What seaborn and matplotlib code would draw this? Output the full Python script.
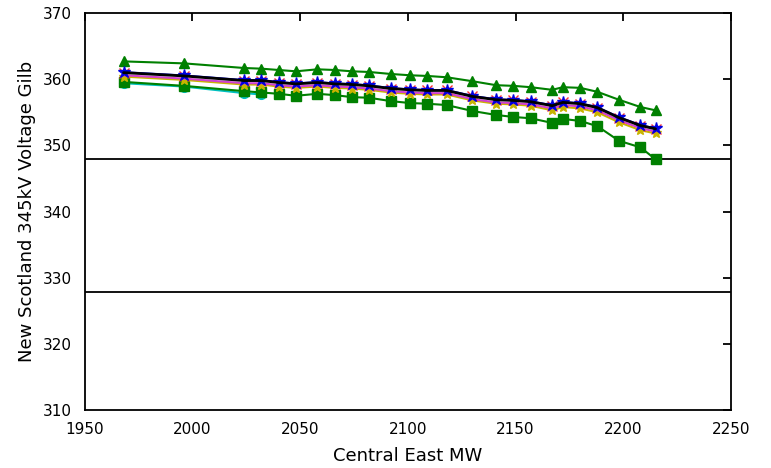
import matplotlib
matplotlib.use("Agg")
import matplotlib.pyplot as plt
import seaborn as sns
import pandas as pd

sns.set_style("white")
plt.rcParams['font.family'] = ['DejaVu Sans']
plt.rcParams['text.color'] = 'black'
plt.rcParams['axes.labelcolor'] = 'black'
plt.rcParams['xtick.color'] = 'black'
plt.rcParams['ytick.color'] = 'black'

mw = [1968, 1996, 2024, 2032, 2040, 2048, 2058, 2066, 2074, 2082, 2092, 2101, 2109,
      2118, 2130, 2141, 2149, 2157, 2167, 2172, 2180, 2188, 2198, 2208, 2215]

green_tri = [362.7, 362.4, 361.7, 361.6, 361.4, 361.2, 361.5, 361.4, 361.2, 361.1, 360.8, 360.6, 360.5,
             360.3, 359.7, 359.1, 359.0, 358.8, 358.4, 358.8, 358.7, 358.1, 356.9, 355.8, 355.3]
blue_star = [361.1, 360.6, 359.9, 359.9, 359.6, 359.4, 359.6, 359.4, 359.3, 359.1, 358.7, 358.5, 358.4,
             358.4, 357.5, 357.0, 356.9, 356.7, 356.1, 356.6, 356.4, 355.8, 354.3, 353.1, 352.6]
red_plus = [361.0, 360.5, 359.8, 359.8, 359.5, 359.3, 359.5, 359.3, 359.2, 359.0, 358.6, 358.4, 358.3,
            358.3, 357.4, 356.9, 356.8, 356.6, 356.0, 356.5, 356.3, 355.7, 354.2, 353.0, 352.5]
black_line = [361.0, 360.5, 359.8, 359.8, 359.5, 359.3, 359.5, 359.3, 359.2, 359.0, 358.6, 358.4, 358.3,
              358.3, 357.4, 356.9, 356.8, 356.6, 356.0, 356.5, 356.3, 355.7, 354.2, 353.0, 352.5]
magenta_line = [360.6, 360.1, 359.4, 359.4, 359.1, 358.9, 359.1, 358.9, 358.8, 358.6, 358.2, 358.0, 357.9,
                357.9, 357.0, 356.5, 356.4, 356.2, 355.6, 356.1, 355.9, 355.3, 353.8, 352.6, 352.1]
yellow_star = [360.4, 359.9, 359.2, 359.2, 358.9, 358.7, 358.9, 358.7, 358.6, 358.4, 358.0, 357.8, 357.7,
               357.7, 356.8, 356.3, 356.2, 356.0, 355.3, 355.8, 355.6, 355.0, 353.5, 352.3, 351.8]
cyan_mw = [1968, 1996, 2024, 2032]
cyan_circle = [359.4, 358.9, 357.9, 357.7]
green_sq = [359.6, 359.0, 358.2, 358.0, 357.8, 357.5, 357.8, 357.6, 357.3, 357.2, 356.7, 356.4, 356.3,
            356.1, 355.2, 354.6, 354.3, 354.1, 353.4, 354.0, 353.7, 352.9, 350.7, 349.7, 347.9]

limits = [348.0, 327.8]

fig = plt.figure(figsize=(7.71, 4.68), dpi=100)
ax = fig.add_axes([0.110, 0.124, 0.838, 0.848])

def draw(x, y, color, marker, ms, lw, z=2):
    df = pd.DataFrame({"x": x, "y": y})
    sns.lineplot(data=df, x="x", y="y", ax=ax, sort=False, color=color, marker=marker,
                 markersize=ms, linewidth=lw, markeredgecolor=color,
                 markeredgewidth=1, zorder=z)

draw(mw, green_tri, "#008000", "^", 7, 1.5, z=3)
draw(cyan_mw, cyan_circle, "#00c0c0", "o", 7, 1.5, z=2)
draw(mw, green_sq, "#008000", "s", 6.5, 1.5, z=3)
draw(mw, yellow_star, "#c8b400", "*", 8, 1.5, z=3)
draw(mw, magenta_line, "#d040d0", None, 0, 1.5, z=3)
draw(mw, red_plus, "#ff3030", "x", 7, 0.8, z=4)
draw(mw, blue_star, "#0000e0", "*", 9, 1.2, z=5)
draw(mw, black_line, "#000000", None, 0, 2.0, z=6)

for v in limits:
    ax.axhline(v, color="black", linewidth=1.3, zorder=1)

ax.set_xlim(1950, 2250)
ax.set_ylim(310, 370)
ax.set_xticks(range(1950, 2251, 50))
ax.set_yticks(range(310, 371, 10))
ax.tick_params(direction="in", top=True, right=True, length=6, width=1.3, labelsize=11)
ax.tick_params(axis="x", pad=9)
ax.tick_params(axis="y", pad=9)
for s in ax.spines.values():
    s.set_linewidth(1.3)
    s.set_color("black")
ax.set_xlabel("Central East MW", fontsize=13, labelpad=7)
ax.set_ylabel("New Scotland 345kV Voltage Gilb", fontsize=13, labelpad=5)
leg = ax.get_legend()
if leg:
    leg.remove()

fig.savefig("out.png", dpi=100)
